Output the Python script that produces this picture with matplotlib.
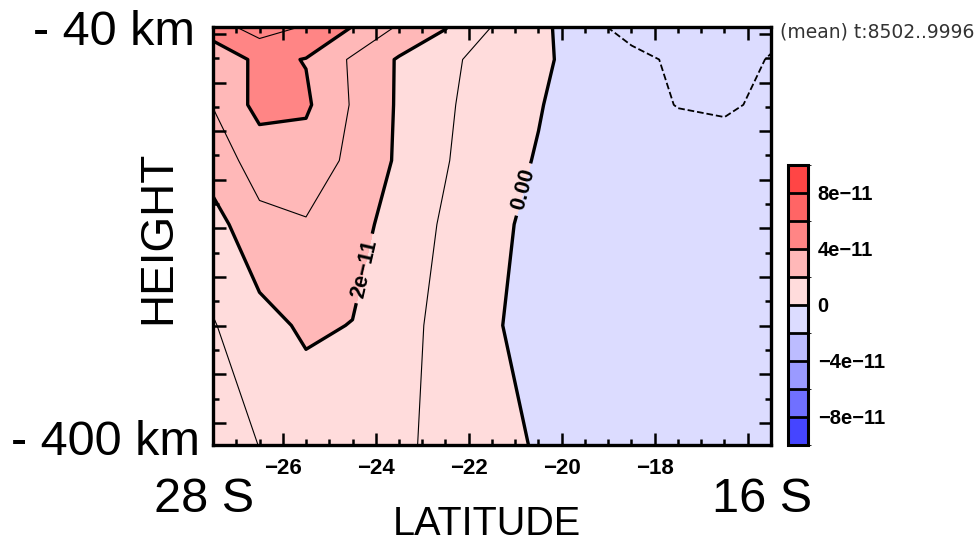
import numpy as np
import matplotlib
matplotlib.use("Agg")
import matplotlib.pyplot as plt
from matplotlib.colors import ListedColormap, BoundaryNorm
from matplotlib.ticker import MultipleLocator, FixedLocator

plt.rcParams['font.family'] = ['Liberation Sans', 'DejaVu Sans']

# grid: latitude (deg) and height (km)
lats = [-27.5, -26.5, -25.5, -24.5, -23.5, -22.5, -21.5, -20.5, -19.5, -18.5, -17.5, -16.5, -15.5]
heights = [-40, -68, -107, -155, -210, -297, -400]

# field values, units of 1e-11, one row per height
row_40 = [4.6, 5.4, 4.93, 3.98, 2.89, 2.05, 0.98, 0.3, -0.7, -1.33, -1.4, -1.35, -1.2]
row_68 = [3.2, 4.27, 3.96, 2.86, 1.90, 1.35, 0.40, 0.3, -0.58, -0.75, -1.17, -1.3, -0.955]
row_107 = [3.03, 4.33, 4.15, 2.91, 1.88, 1.2, 0.29, 0.08, -0.65, -0.8, -1.02, -1.15, -0.78]
row_155 = [2.51, 3.4, 3.53, 2.79, 1.85, 1.05, 0.5, -0.09, -0.5, -0.6, -0.69, -0.47, -0.5]
row_210 = [1.6, 2.76, 2.93, 2.5, 1.44, 0.90, 0.3, -0.33, -0.5, -0.55, -0.55, -0.5, -0.5]
row_297 = [0.94, 1.63, 2.17, 1.97, 1.4, 0.65, 0.15, -0.5, -0.5, -0.5, -0.5, -0.5, -0.5]
row_400 = [0.7, 1.01, 1.32, 1.2, 1.1, 0.85, 0.4, -0.11, -0.4, -0.4, -0.4, -0.4, -0.4]

fill_levels = [-10e-11, -8e-11, -6e-11, -4e-11, -2e-11, 0, 2e-11, 4e-11, 6e-11, 8e-11, 10e-11]
fill_colors = ['#4545ff', '#7070ff', '#9a9aff', '#bcbcff', '#dcdcff',
               '#ffdcdc', '#ffb8b8', '#ff8585', '#ff6565', '#ff4545']
thick_levels = [0, 2e-11, 4e-11]
thin_levels = [1e-11, 3e-11, 5e-11]
neg_levels = [-1e-11]
cbar_ticks = [-8e-11, -4e-11, 0, 4e-11, 8e-11]
cbar_labels = ['\u22128e\u221211', '\u22124e\u221211', '0', '4e\u221211', '8e\u221211']

z = np.array([row_40, row_68, row_107, row_155, row_210, row_297, row_400]) * 1e-11
X, Y = np.meshgrid(lats, heights)

W, H = 979, 544
fig = plt.figure(figsize=(W / 100, H / 100), dpi=100)
ax = fig.add_axes([213 / W, 1 - 445 / H, (771 - 213) / W, (445 - 27) / H])

cmap = ListedColormap(fill_colors)
norm = BoundaryNorm(fill_levels, cmap.N)
cf = ax.contourf(X, Y, z, levels=fill_levels, cmap=cmap, norm=norm)

cs_thick = ax.contour(X, Y, z, levels=thick_levels, colors='k', linewidths=2.4)
ax.contour(X, Y, z, levels=thin_levels, colors='k', linewidths=0.8)
ax.contour(X, Y, z, levels=neg_levels, colors='k', linewidths=1.3, linestyles='dashed')

plt.rcParams['font.weight'] = 'bold'
ax.clabel(cs_thick, levels=[0, 2e-11], inline=True, inline_spacing=6, fontsize=15.5,
          fmt=lambda v: '0.00' if abs(v) < 1e-15 else '2e\u221211',
          manual=[(-20.82, -180), (-24.24, -248)])
plt.rcParams['font.weight'] = 'normal'

ax.set_xlim(-27.5, -15.5)
ax.set_ylim(-400, -40)
ax.xaxis.set_major_locator(MultipleLocator(2))
ax.xaxis.set_minor_locator(MultipleLocator(0.5))
ax.yaxis.set_major_locator(FixedLocator(np.linspace(-380.9, -46.0, 9)))
ax.yaxis.set_minor_locator(FixedLocator(np.linspace(-380.9, -46.0, 9)[:-1] + 20.93))
ax.tick_params(which='both', direction='in', top=True, right=True, width=1.8)
ax.tick_params(which='major', length=9)
ax.tick_params(which='minor', length=4.5)
ax.tick_params(axis='x', which='major', pad=9, labelsize=16)
ax.set_yticklabels([])
ax.set_xticks([-26, -24, -22, -20, -18, -16])
ax.set_xticklabels(['\u221226', '\u221224', '\u221222', '\u221220', '\u221218', ''])
for lab in ax.get_xticklabels():
    lab.set_fontweight('bold')
for s in ax.spines.values():
    s.set_linewidth(2.4)

# colour key
cax = fig.add_axes([788 / W, 1 - 445 / H, 20 / W, 280 / H])
cb = fig.colorbar(cf, cax=cax, ticks=cbar_ticks, drawedges=True)
cb.ax.set_yticklabels(cbar_labels)
cb.ax.tick_params(length=0, pad=7, labelsize=14.5)
for lab in cb.ax.get_yticklabels():
    lab.set_fontweight('bold')
cb.outline.set_linewidth(2.2)
cb.dividers.set_color('k')
cb.dividers.set_linewidth(2)

fig.text(780 / W, 1 - 32 / H, '(mean) t:8502..9996', fontsize=13.5, color='#333333',
         family='DejaVu Sans', va='center', ha='left')

# big slide labels
fig.text(195 / W, 1 - 45 / H, '- 40 km', fontsize=35, ha='right', va='baseline')
fig.text(200 / W, 1 - 455 / H, '- 400 km', fontsize=35, ha='right', va='baseline')
fig.text(158 / W, 1 - 237 / H, 'HEIGHT', fontsize=33, rotation=90, ha='center', va='center')
fig.text(204 / W, 1 - 512 / H, '28 S', fontsize=35, ha='center', va='baseline')
fig.text(762 / W, 1 - 512 / H, '16 S', fontsize=35, ha='center', va='baseline')
fig.text(487 / W, 1 - 543 / H, 'LATITUDE', fontsize=28.5, ha='center', va='bottom')

fig.savefig('out.png', dpi=100)
